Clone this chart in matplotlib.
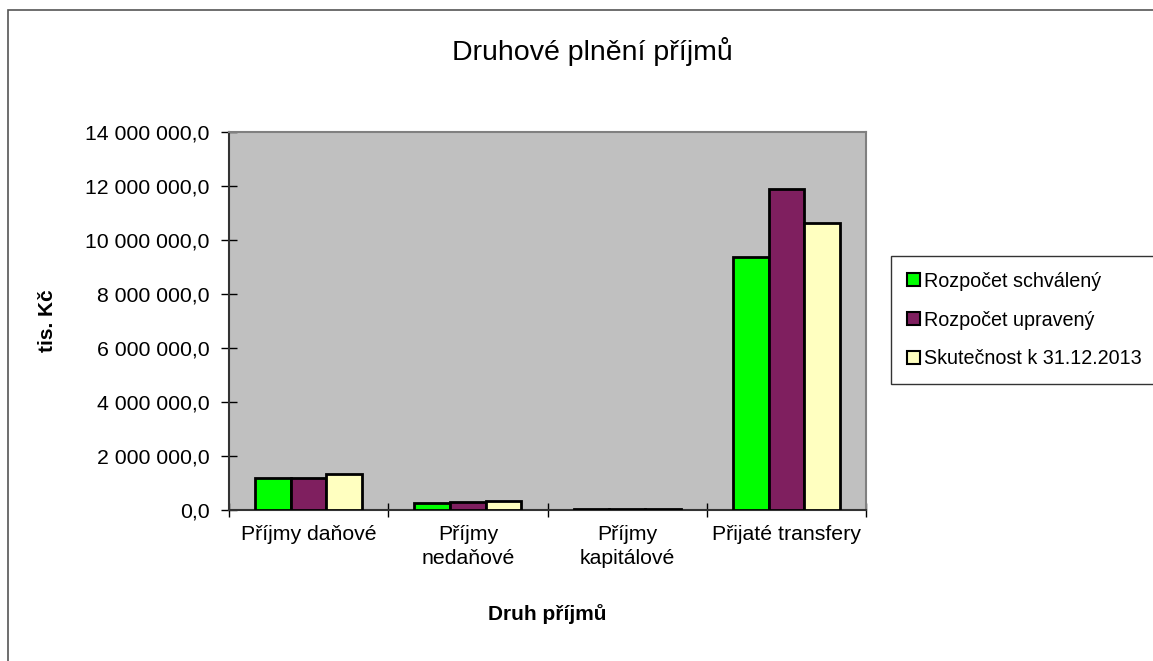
import numpy as np
import matplotlib
matplotlib.use("Agg")
import matplotlib.pyplot as plt
from matplotlib.patches import Rectangle
from matplotlib.ticker import FuncFormatter, MultipleLocator

plt.rcParams['font.family'] = ['Liberation Sans', 'DejaVu Sans']

categories = ['Příjmy daňové', 'Příjmy\nnedaňové', 'Příjmy\nkapitálové', 'Přijaté transfery']
series_names = ['Rozpočet schválený', 'Rozpočet upravený', 'Skutečnost k 31.12.2013']
schvaleny = [1190000, 250000, 20000, 9360000]
upraveny = [1190000, 300000, 30000, 11890000]
skutecnost = [1320000, 330000, 30000, 10620000]
colors = ['#00FF00', '#7F1F5F', '#FFFFC0']

fig = plt.figure(figsize=(11.53, 6.61), dpi=100)
# outer chart frame
fig.patches.append(Rectangle((8 / 1153, -0.05), 1.1, 1 - 10 / 661 + 0.05,
                             transform=fig.transFigure, fill=False,
                             edgecolor='#555555', linewidth=1.2))

ax = fig.add_axes([229 / 1153, 1 - 510 / 661, (866 - 229) / 1153, (510 - 132) / 661])
ax.set_facecolor('#C0C0C0')

x = np.arange(len(categories))
w = 0.224
for i, (vals, name) in enumerate(zip([schvaleny, upraveny, skutecnost], series_names)):
    ax.bar(x + (i - 1) * w, vals, w, color=colors[i], edgecolor='black',
           linewidth=2, label=name, zorder=3)

ax.set_xlim(-0.5, len(categories) - 0.5)
ax.set_ylim(0, 14000000)
ax.yaxis.set_major_locator(MultipleLocator(2000000))
ax.yaxis.set_major_formatter(FuncFormatter(lambda v, p: f"{v:,.1f}".replace(',', ' ').replace('.', ',')))
ax.set_xticks(x)
ax.set_xticklabels(categories, fontsize=15.3, linespacing=1.3)
ax.set_xticks(np.arange(len(categories) + 1) - 0.5, minor=True)
ax.tick_params(axis='x', which='major', length=0, pad=11)
ax.tick_params(axis='x', which='minor', length=10, direction='inout', width=1)
ax.tick_params(axis='y', labelsize=15.3, direction='inout', length=12, width=1, pad=8)

for s in ['top', 'right']:
    ax.spines[s].set_color('#808080')
    ax.spines[s].set_linewidth(1.5)
for s in ['left', 'bottom']:
    ax.spines[s].set_color('#333333')
    ax.spines[s].set_linewidth(1.5)

ax.set_ylabel('tis. Kč', fontsize=15, fontweight='bold', labelpad=20)
ax.set_xlabel('Druh příjmů', fontsize=15, fontweight='bold', labelpad=26)
fig.text(592 / 1153, 1 - 52 / 661, 'Druhové plnění příjmů', fontsize=20.5,
         ha='center', va='center')

leg = fig.legend(loc='center left', bbox_to_anchor=(891 / 1153, 1 - 320 / 661),
                 fontsize=14.2, frameon=True, fancybox=False, handlelength=0.65,
                 handleheight=0.65, handletextpad=0.2, labelspacing=1.0,
                 borderpad=0.8, edgecolor='black', borderaxespad=0)
leg.get_frame().set_linewidth(1)
for h in leg.legend_handles:
    h.set_linewidth(1.5)

fig.savefig('out.png', dpi=100)
